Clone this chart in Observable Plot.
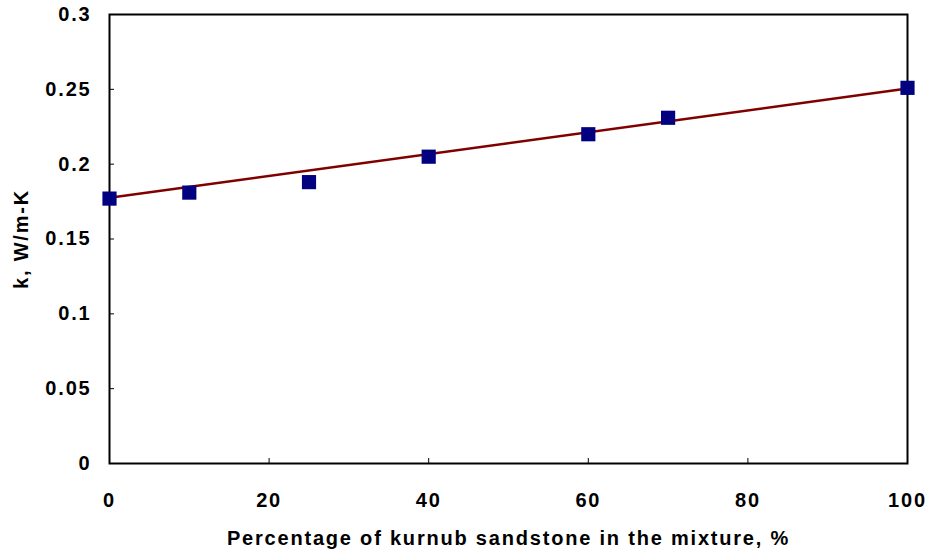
<!DOCTYPE html>
<html>
<head>
<meta charset="utf-8">
<script src="https://cdn.jsdelivr.net/npm/d3@7"></script>
<script src="https://cdn.jsdelivr.net/npm/@observablehq/plot@0.6"></script>
<style>
  html, body { margin: 0; padding: 0; background: #fff; }
  #chart svg text { letter-spacing: 1.8px; }
</style>
</head>
<body>
<div id="chart"></div>
<script>
// Measured data
const percent = [0, 10, 25, 40, 60, 70, 100];
const conductivity = [0.177, 0.181, 0.188, 0.205, 0.22, 0.231, 0.251];
// Trend line endpoints
const trendPercent = [0, 100];
const trendK = [0.1775, 0.2505];
// Tick labels
const xTicks = [0, 20, 40, 60, 80, 100];
const yTicks = [0, 0.05, 0.1, 0.15, 0.2, 0.25, 0.3];

const points = percent.map((p, i) => ({p, k: conductivity[i]}));
const trend = trendPercent.map((p, i) => ({p, k: trendK[i]}));

const fontStyle = {fontFamily: "'Liberation Sans', Arial, sans-serif", fontWeight: "bold", fontSize: "20px", color: "#000", background: "#fff"};

const chart = Plot.plot({
  width: 929,
  height: 553,
  marginLeft: 109,
  marginRight: 22,
  marginTop: 14,
  marginBottom: 90,
  style: fontStyle,
  x: {domain: [0, 100]},
  y: {domain: [0, 0.3]},
  marks: [
    Plot.axisX({ticks: xTicks, tickSize: -5, tickFormat: () => "", label: null, stroke: "#000"}),
    Plot.axisX({ticks: xTicks, tickSize: 0, tickPadding: 29, tickFormat: d => String(d),
      label: "Percentage of kurnub sandstone in the mixture, %", labelAnchor: "center", labelArrow: "none", labelOffset: 81}),
    Plot.axisY({ticks: yTicks, tickSize: -5, tickFormat: () => "", label: null, stroke: "#000"}),
    Plot.axisY({ticks: yTicks, tickSize: 0, tickPadding: 18, tickFormat: d => String(d),
      label: "k, W/m-K", labelAnchor: "center", labelArrow: "none", labelOffset: 96}),
    Plot.frame({stroke: "#000", strokeWidth: 2}),
    Plot.line(trend, {x: "p", y: "k", stroke: "#800000", strokeWidth: 2.5}),
    Plot.dot(points, {x: "p", y: "k", symbol: "square", r: 8, fill: "#000080", stroke: "none"})
  ]
});
document.getElementById("chart").appendChild(chart);
</script>
</body>
</html>
